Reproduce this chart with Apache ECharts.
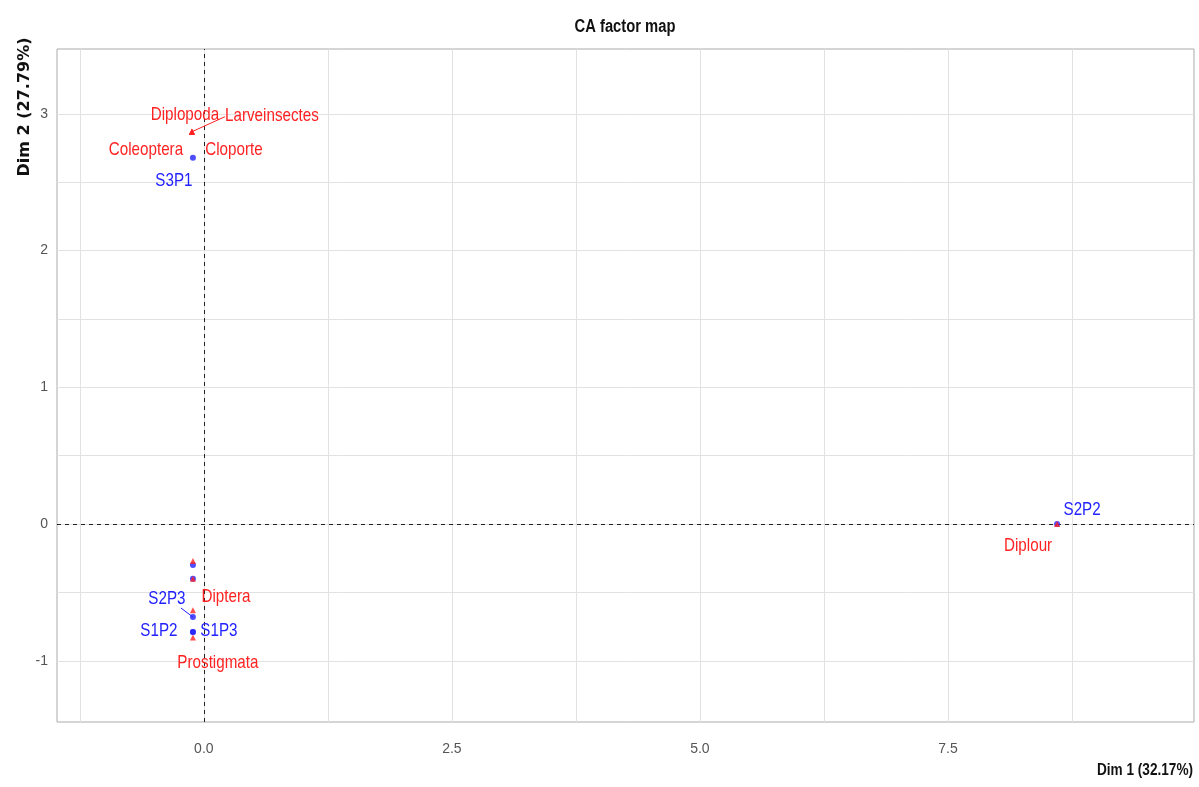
<!DOCTYPE html>
<html>
<head>
<meta charset="utf-8">
<script src="https://cdn.jsdelivr.net/npm/echarts@6/dist/echarts.min.js"></script>
<style>html,body{margin:0;padding:0;background:#fff}#c{width:1199px;height:787px}</style>
</head>
<body>
<div id="c"></div>
<script>
// ---- data ----
const rowNames = ['S3P1', 'S2P2', 'S2P3', 'S1P2', 'S1P3', '', ''];
const rowDim1 = [-0.11, 8.60, -0.11, -0.11, -0.11, -0.11, -0.11];
const rowDim2 = [2.68, 0.00, -0.68, -0.79, -0.79, -0.30, -0.40];

const colNames = ['Diplopoda', 'Larveinsectes', 'Coleoptera', 'Cloporte', 'Diptera', 'Prostigmata', 'Diplour', '', ''];
const colDim1 = [-0.12, -0.12, -0.12, -0.12, -0.11, -0.11, 8.60, -0.11, -0.11];
const colDim2 = [2.87, 2.87, 2.87, 2.87, -0.63, -0.83, 0.00, -0.27, -0.40];

const xTicks = [0, 2.5, 5, 7.5];
const yTicks = [-1, 0, 1, 2, 3];
const xGrid = [-1.25, 0, 1.25, 2.5, 3.75, 5, 6.25, 7.5, 8.75];
const yGrid = [-1.5, -1, -0.5, 0, 0.5, 1, 1.5, 2, 2.5, 3];

// ---- label placement (pixel offsets from the point; optional guide-line end) ----
const labelOffsets = {
  'Diplopoda': [-7, -17], 'Larveinsectes': [80, -16, 33, -15], 'Coleoptera': [-46, 18], 'Cloporte': [42, 18],
  'Diptera': [33, -13], 'Prostigmata': [25, 25], 'Diplour': [-29, 22],
  'S3P1': [-19, 23], 'S2P2': [25, -14], 'S2P3': [-26, -18, -12, -9], 'S1P2': [-34, -1], 'S1P3': [26, -1]
};

const RED = '#f22';
const BLUE = '#22f';
const FONT = '"Liberation Sans", Arial, sans-serif';

function pts(xs, ys) { return xs.map((x, i) => [x, ys[i]]); }

function labelSeries(names, xs, ys, color) {
  const data = [];
  names.forEach((n, i) => { if (n) data.push([xs[i], ys[i], i]); });
  return {
    type: 'custom', z: 6, silent: true, clip: false,
    data: data,
    renderItem: function (params, api) {
      const i = api.value(2);
      const n = names[i];
      const p = api.coord([api.value(0), api.value(1)]);
      const off = labelOffsets[n] || [0, 0];
      const children = [{
        type: 'text', x: p[0] + off[0], y: p[1] + off[1], scaleX: 0.8,
        style: { text: n, fill: color, fontFamily: FONT, fontSize: 19, align: 'center', verticalAlign: 'middle' }
      }];
      if (off.length > 2) {
        children.push({
          type: 'line', shape: { x1: p[0], y1: p[1], x2: p[0] + off[2], y2: p[1] + off[3] },
          style: { stroke: color, lineWidth: 1 }
        });
      }
      return { type: 'group', children: children };
    }
  };
}

const chart = echarts.init(document.getElementById('c'), null, { renderer: 'canvas' });
chart.setOption({
  animation: false,
  backgroundColor: '#fff',
  grid: { left: 57, right: 5, top: 49, bottom: 65, show: true, borderColor: '#aaa', borderWidth: 1, backgroundColor: '#fff' },
  xAxis: {
    type: 'value', min: -1.48, max: 9.98,
    axisLine: { show: false },
    splitLine: { show: false },
    axisTick: { show: true, customValues: xTicks, length: 4, lineStyle: { color: '#999' } },
    axisLabel: { customValues: xTicks, margin: 20, color: '#555', fontFamily: FONT, fontSize: 14, formatter: v => v.toFixed(1) }
  },
  yAxis: {
    type: 'value', min: -1.448, max: 3.475,
    axisLine: { show: false },
    splitLine: { show: false },
    axisTick: { show: true, customValues: yTicks, length: 4, lineStyle: { color: '#999' } },
    axisLabel: { customValues: yTicks, margin: 9, color: '#555', fontFamily: FONT, fontSize: 14, formatter: v => String(v) }
  },
  graphic: [
    { type: 'text', x: 625, y: 27, scaleX: 0.82,
      style: { text: 'CA factor map', fontFamily: FONT, fontWeight: 'bold', fontSize: 18, fill: '#111', align: 'center', verticalAlign: 'middle' } },
    { type: 'text', x: 1193, y: 770, scaleX: 0.8,
      style: { text: 'Dim 1 (32.17%)', fontFamily: FONT, fontWeight: 'bold', fontSize: 17, fill: '#111', align: 'right', verticalAlign: 'middle' } },
    { type: 'text', x: 25, y: 107, rotation: Math.PI / 2,
      style: { text: 'Dim 2 (27.79%)', fontFamily: '"DejaVu Sans", sans-serif', fontWeight: 'bold', fontSize: 16, fill: '#111', align: 'center', verticalAlign: 'middle' } }
  ],
  series: [
    {
      type: 'scatter', data: [], z: 1, silent: true,
      markLine: {
        z: 1, silent: true, symbol: 'none', label: { show: false }, animation: false,
        lineStyle: { color: '#e2e2e2', width: 1, type: 'solid' },
        data: xGrid.map(v => ({ xAxis: v })).concat(yGrid.map(v => ({ yAxis: v })))
      }
    },
    {
      type: 'scatter', data: [], z: 2, silent: true,
      markLine: {
        z: 2, silent: true, symbol: 'none', label: { show: false }, animation: false,
        lineStyle: { color: '#222', width: 1, type: [4, 4] },
        data: [{ xAxis: 0 }, { yAxis: 0 }]
      }
    },
    {
      name: 'rows', type: 'scatter', z: 3, symbol: 'circle', symbolSize: 6,
      itemStyle: { color: BLUE },
      data: pts(rowDim1, rowDim2)
    },
    {
      name: 'cols', type: 'scatter', z: 4, symbol: 'triangle', symbolSize: 6,
      itemStyle: { color: RED },
      data: pts(colDim1, colDim2)
    },
    labelSeries(rowNames, rowDim1, rowDim2, BLUE),
    labelSeries(colNames, colDim1, colDim2, RED)
  ]
});
</script>
</body>
</html>
